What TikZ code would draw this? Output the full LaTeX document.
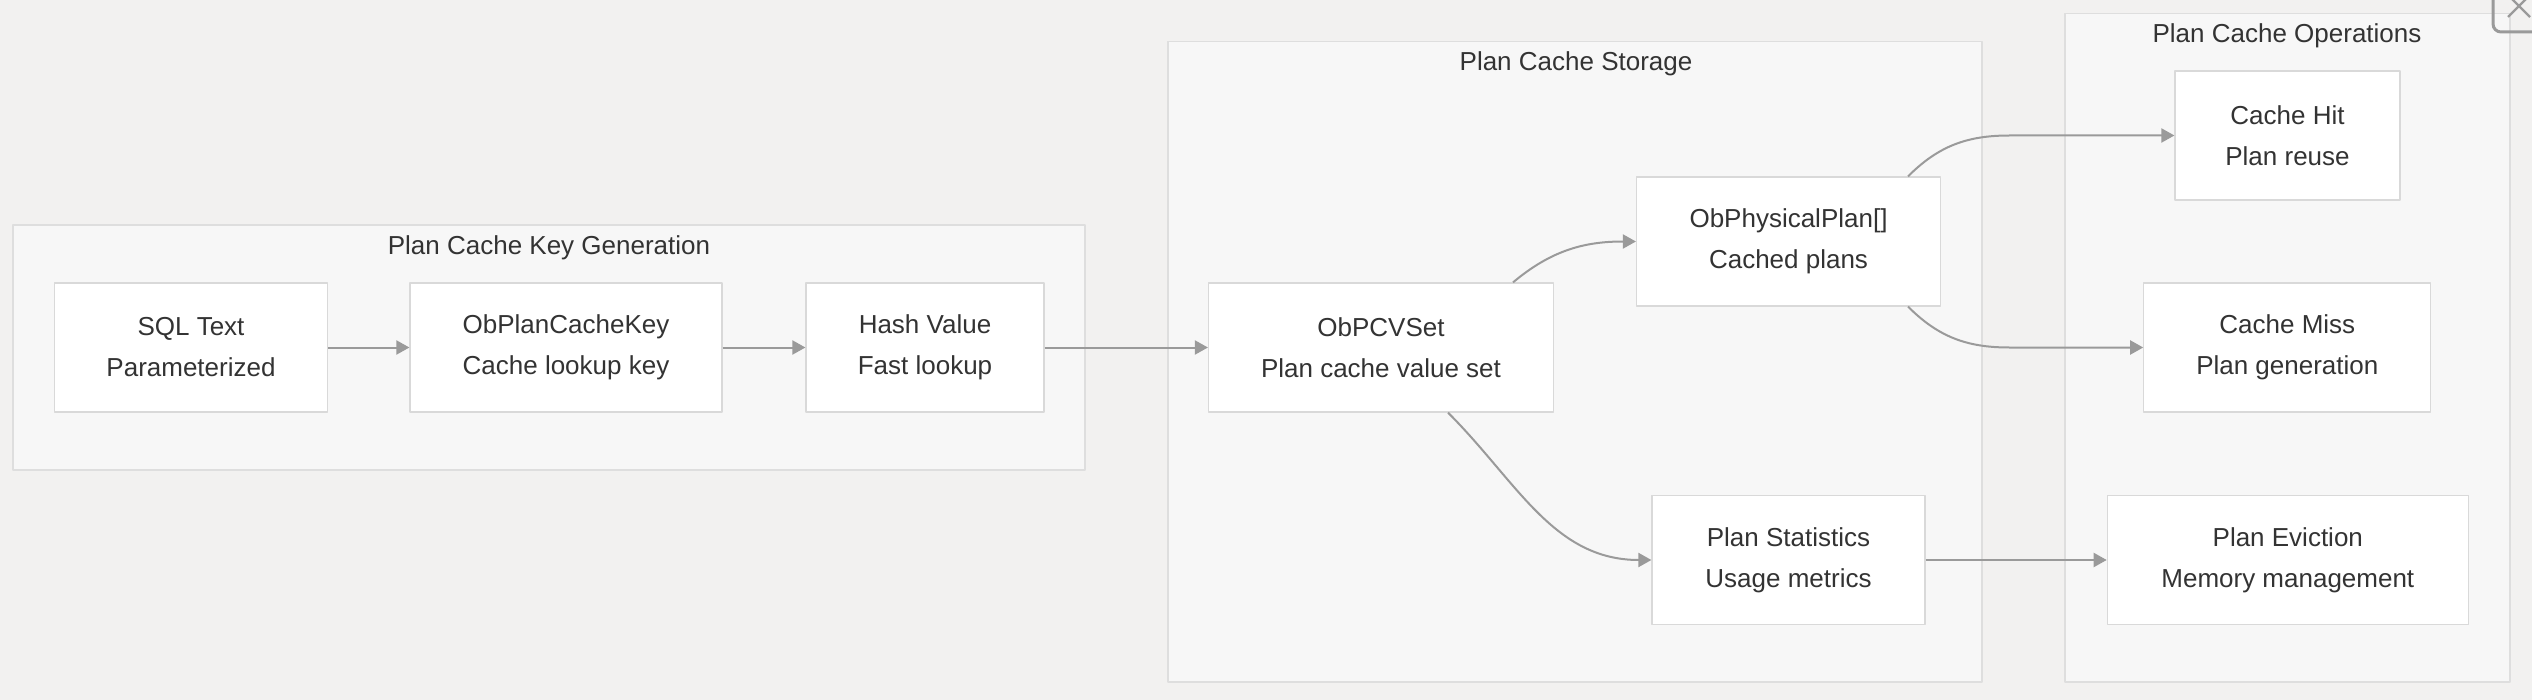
\documentclass[tikz,border=0pt]{standalone}
\usepackage{fontspec}
\setmainfont{Liberation Sans}
\usetikzlibrary{arrows.meta}
\definecolor{bgcol}{HTML}{F2F1F0}
\definecolor{grpfill}{HTML}{F7F7F7}
\definecolor{grpline}{HTML}{DEDEDE}
\definecolor{boxline}{HTML}{D9D9D9}
\definecolor{linkcol}{HTML}{9A9A9A}
\definecolor{txt}{HTML}{333333}
\begin{document}
\begin{tikzpicture}[x=0.5pt,y=-0.5pt,line join=round,>={Triangle[length=6.5pt,width=7pt]}]
    \tikzset{box/.style={draw=boxline,fill=white,line width=0.6pt,text=txt,align=center,
            font=\fontsize{13}{20.5}\selectfont,minimum height=64.5pt,inner sep=0pt},
        grp/.style={draw=grpline,fill=grpfill,line width=0.6pt},
        grp title/.style={text=txt,font=\fontsize{13}{15}\selectfont},
        link/.style={->,draw=linkcol,line width=1pt}}
    \useasboundingbox (0,0) rectangle (2532,700);
    \fill[bgcol] (0,0) rectangle (2532,700);
    %% groups
    \draw[grp] (13,225) rectangle (1085,470);
    \draw[grp] (1168,41.5) rectangle (1982,682);
    \draw[grp] (2065,13.4) rectangle (2510,682);
    \node[grp title] (keygen) at (549,248) {Plan Cache Key Generation};
    \node[grp title] (storage) at (1576,63.5) {Plan Cache Storage};
    \node[grp title] (ops) at (2287,35.4) {Plan Cache Operations};
    %% nodes
    \node[box,minimum width=136.5pt] (sql) at (191,347.5) {SQL Text\\Parameterized};
    \node[box,minimum width=156pt] (key) at (566,347.5) {ObPlanCacheKey\\Cache lookup key};
    \node[box,minimum width=119pt] (hash) at (925,347.5) {Hash Value\\Fast lookup};
    \node[box,minimum width=172.5pt] (pcv) at (1381,347.5) {ObPCVSet\\Plan cache value set};
    \node[box,minimum width=152pt] (phys) at (1788.5,241.5) {ObPhysicalPlan[]\\Cached plans};
    \node[box,minimum width=136.5pt] (stats) at (1788.5,560) {Plan Statistics\\Usage metrics};
    \node[box,minimum width=112.5pt] (hit) at (2287.5,135.5) {Cache Hit\\Plan reuse};
    \node[box,minimum width=143.5pt] (miss) at (2287.3,347.5) {Cache Miss\\Plan generation};
    \node[box,minimum width=180.5pt] (evict) at (2287.8,560) {Plan Eviction\\Memory management};
    \coordinate (hitin) at ([xshift=-82.5pt]hit.west);
    \coordinate (missin) at ([xshift=-67pt]miss.west);
    %% links
    \draw[link] (sql) -- (key);
    \draw[link] (key) -- (hash);
    \draw[link] (hash) -- (pcv);
    \draw[link] ([xshift=66pt]pcv.north) to[out=40,in=180] (phys.west);
    \draw[link] ([xshift=33.5pt]pcv.south) to[out=-45,in=180] (stats.west);
    \draw[link] ([xshift=59.75pt]phys.north) to[out=45,in=180] (hitin) -- (hit.west);
    \draw[link] ([xshift=59.75pt]phys.south) to[out=-45,in=180] (missin) -- (miss.west);
    \draw[link] (stats) -- (evict);
    %% close button
    \begin{scope}
        \clip (0,0) rectangle (2532,700);
        \draw[linkcol,line width=1.5pt,rounded corners=4pt] (2493,-20) -- (2493,32) -- (2560,32);
        \draw[linkcol,line width=1.2pt] (2508,17) -- (2532,-7) (2510,-3) -- (2530,17);
    \end{scope}
\end{tikzpicture}
\end{document}
